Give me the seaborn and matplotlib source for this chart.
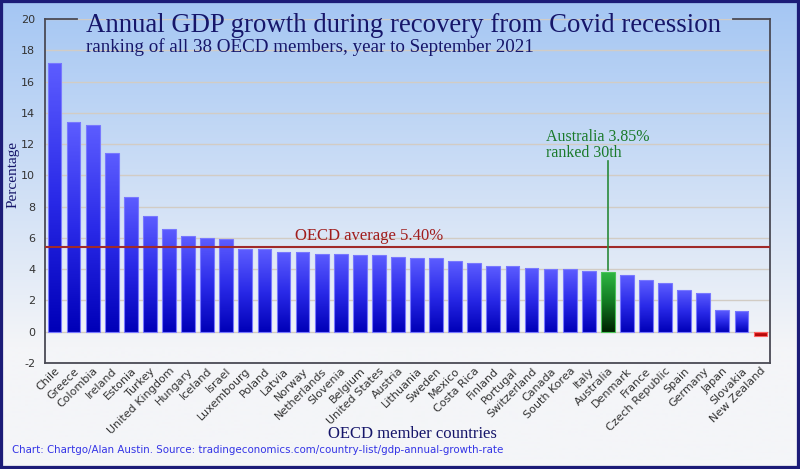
import numpy as np
import pandas as pd
import matplotlib
matplotlib.use("Agg")
import matplotlib.pyplot as plt
import seaborn as sns
from matplotlib.colors import LinearSegmentedColormap
from matplotlib.patches import Rectangle

plt.rcParams["axes.unicode_minus"] = False

countries = ["Chile", "Greece", "Colombia", "Ireland", "Estonia", "Turkey",
             "United Kingdom", "Hungary", "Iceland", "Israel", "Luxembourg",
             "Poland", "Latvia", "Norway", "Netherlands", "Slovenia", "Belgium",
             "United States", "Austria", "Lithuania", "Sweden", "Mexico",
             "Costa Rica", "Finland", "Portugal", "Switzerland", "Canada",
             "South Korea", "Italy", "Australia", "Denmark", "France",
             "Czech Republic", "Spain", "Germany", "Japan", "Slovakia",
             "New Zealand"]
growth = [17.2, 13.4, 13.2, 11.4, 8.6, 7.4, 6.6, 6.1, 6.0, 5.9, 5.3, 5.3,
          5.1, 5.1, 5.0, 5.0, 4.9, 4.9, 4.8, 4.7, 4.7, 4.5, 4.4, 4.2, 4.2,
          4.1, 4.0, 4.0, 3.9, 3.85, 3.6, 3.3, 3.1, 2.7, 2.5, 1.4, 1.3, -0.3]
oecd_average = 5.40
yticks = list(range(-2, 21, 2))

df = pd.DataFrame({"country": countries, "growth": growth})

W, H = 800, 469
fig = plt.figure(figsize=(W / 100, H / 100), dpi=100)

# background gradient
bg = fig.add_axes([0, 0, 1, 1], zorder=-10)
bg.set_axis_off()
rows = np.linspace(0, 1, 469)
top = np.array([164, 198, 243]) / 255
bot = np.array([244, 245, 248]) / 255
t = np.clip(rows / 0.74, 0, 1)[:, None]
grad = top * (1 - t) + bot * t
bg.imshow(grad[:, None, :], aspect="auto", extent=[0, 1, 0, 1], origin="upper")
bg.set_xlim(0, 1)
bg.set_ylim(0, 1)
bg.add_patch(Rectangle((0, 0), 1, 1, transform=bg.transAxes, fill=False,
                       edgecolor="#1c1c78", linewidth=4.5, clip_on=False))

ax = fig.add_axes([45 / W, 1 - 363 / H, 725 / W, 344 / H])
ax.set_facecolor("none")

sns.barplot(data=df, x="country", y="growth", ax=ax, width=0.72,
            color="#2020e0", edgecolor="#7878ff", linewidth=0.8, zorder=3)

ax.set_xlim(-0.5, len(countries) - 0.5)
ax.set_ylim(-2, 20)

cm_blue = LinearSegmentedColormap.from_list("b", ["#0000b8", "#2a2ae8", "#5c5cff"])
cm_green = LinearSegmentedColormap.from_list("g", ["#002200", "#127a22", "#30b844"])
cm_red = LinearSegmentedColormap.from_list("r", ["#a80000", "#e02020"])
for p, c in zip(ax.patches, countries):
    x0, y0 = p.get_x(), p.get_y()
    w, h = p.get_width(), p.get_height()
    ylo, yhi = min(y0, y0 + h), max(y0, y0 + h)
    if c == "Australia":
        cmap = cm_green
        p.set_edgecolor("#4ac45a")
    elif c == "New Zealand":
        cmap = cm_red
        p.set_edgecolor("#ff6060")
    else:
        cmap = cm_blue
    g = np.linspace(0, 1, 100)[:, None]
    im = ax.imshow(g, cmap=cmap, origin="lower", aspect="auto",
                   extent=[x0, x0 + w, ylo, yhi], zorder=3.5)
    im.set_clip_path(p)
    p.set_facecolor("none")
    p.set_zorder(4)

ax.set_xlim(-0.5, len(countries) - 0.5)
ax.set_ylim(-2, 20)

# grid
ax.set_yticks(yticks)
ax.yaxis.grid(True, color="#d2ccc4", linewidth=1.0, zorder=0)
ax.xaxis.grid(False)
ax.set_axisbelow(True)
ax.tick_params(axis="y", length=0, pad=7, labelsize=8, labelcolor="#333333")
ax.tick_params(axis="x", length=0, pad=2, labelsize=8, labelcolor="#333333")
for lbl in ax.get_yticklabels():
    lbl.set_fontfamily("DejaVu Sans")
ax.set_xticks(range(len(countries)))
ax.set_xticklabels(countries, rotation=45, ha="right", rotation_mode="anchor",
                   family="DejaVu Sans")

for s in ["left", "right", "bottom"]:
    ax.spines[s].set_color("#4a4a55")
    ax.spines[s].set_linewidth(1.3)
ax.spines["top"].set_visible(False)
ax.plot([0, (77 - 45) / 725], [1, 1], transform=ax.transAxes, color="#4a4a55",
        lw=1.3, clip_on=False)
ax.plot([(733 - 45) / 725, 1], [1, 1], transform=ax.transAxes, color="#4a4a55",
        lw=1.3, clip_on=False)

# average line
ax.axhline(oecd_average, color="#a02a2a", lw=1.5, zorder=5)
ax.text(12.6, oecd_average + 0.22, f"OECD average {oecd_average:.2f}%",
        color="#a01c1c", fontsize=12, family="Liberation Serif", va="bottom")

# Australia annotation
ia = countries.index("Australia")
ax.plot([ia, ia], [growth[ia] + 0.1, 10.9], color="#2a8a3a", lw=1.2, zorder=5)
ax.text(ia - 3.25, 10.95, "Australia 3.85%\nranked 30th", color="#1a7a2a",
        fontsize=11.5, family="Liberation Serif", va="bottom", ha="left",
        linespacing=0.95)

ax.set_xlabel("")
ax.set_ylabel("")

serif = "Liberation Serif"
fig.text(86 / W, 1 - 32 / H, "Annual GDP growth during recovery from Covid recession",
         fontsize=19.3, family=serif, color="#16166a", va="baseline")
fig.text(86 / W, 1 - 52 / H, "ranking of all 38 OECD members, year to September 2021",
         fontsize=13.7, family=serif, color="#16166a", va="baseline")
fig.text(13 / W, 1 - 175 / H, "Percentage", rotation=90, fontsize=11,
         family=serif, color="#16166a", ha="center", va="center")
fig.text(412 / W, 1 - 434 / H, "OECD member countries", fontsize=12,
         family=serif, color="#16166a", ha="center", va="center")
fig.text(12 / W, 1 - 450 / H,
         "Chart: Chartgo/Alan Austin. Source: tradingeconomics.com/country-list/gdp-annual-growth-rate",
         fontsize=7.4, family="DejaVu Sans", color="#3434e6", ha="left", va="center")

fig.savefig("out.png", dpi=100)
